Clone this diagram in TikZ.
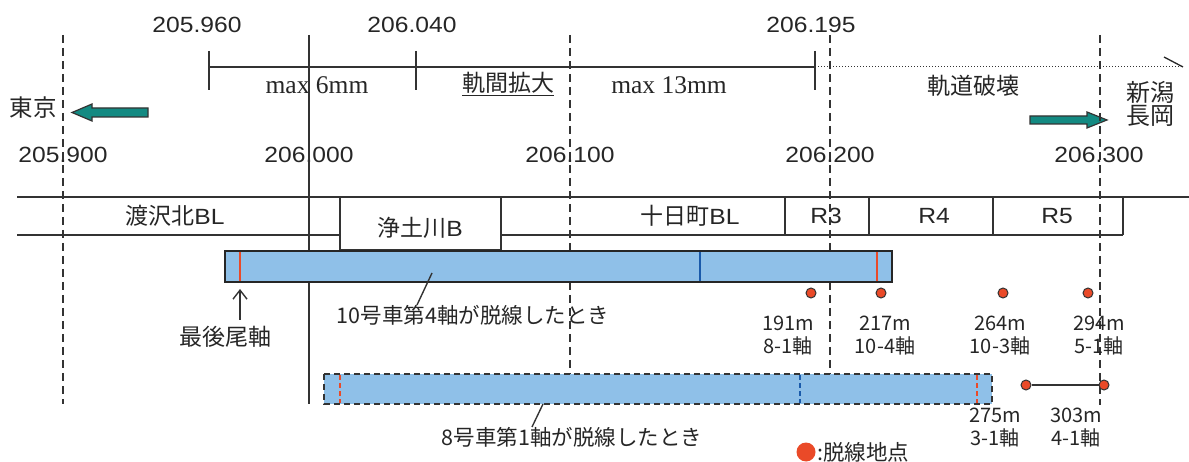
\documentclass[tikz,border=0pt]{standalone}
\usepackage{fontspec}
\usetikzlibrary{arrows.meta}
\setmainfont[FakeStretch=1.12]{Liberation Sans}
\newfontfamily\jp{Noto Sans CJK JP}
\newfontfamily\ser{Liberation Serif}
\definecolor{barblue}{HTML}{8FC0E8}
\definecolor{teal2}{HTML}{138A82}
\definecolor{dotred}{HTML}{EA4A28}
\definecolor{divblue}{HTML}{1A5AAA}
\newcommand{\J}[1]{{\jp\fontsize{23}{25}\selectfont #1}}
\begin{document}
\begin{tikzpicture}[x=1pt,y=-1pt,
  num/.style={font=\fontsize{22}{24}\selectfont, inner sep=0pt, text=black!85},
  jpl/.style={font=\jp\fontsize{23}{25}\selectfont, inner sep=0pt, text=black!85},
  jps/.style={font=\jp\fontsize{21.5}{23}\selectfont, inner sep=0pt, text=black!85},
  jpc/.style={font=\jp\fontsize{20}{22}\selectfont, inner sep=0pt, text=black!85},
  serl/.style={font=\ser\fontsize{25.5}{27}\selectfont, inner sep=0pt, text=black!85},
  vdash/.style={line width=1.3pt, dash pattern=on 8pt off 5pt, black!80},
  thin/.style={line width=1.4pt, black!80},
  boxl/.style={line width=1.6pt, black!80},
  bar/.style={fill=barblue, draw=black!85, line width=2.2pt},
  dbar/.style={fill=barblue, draw=black!80, line width=1.6pt, dash pattern=on 6pt off 4pt},
  reddot/.style={circle, fill=dotred, draw=black!80, line width=1pt, inner sep=0pt, minimum size=10pt},
  blockarrow/.style={fill=teal2, draw=black!80, line width=1.2pt}
]
\useasboundingbox (0,0) rectangle (1189,462);

% ---- top scale ----
\node[num] (k5960) at (197,25) {205.960};
\node[num] (k6040) at (412,25) {206.040};
\node[num] (k6195) at (811,25) {206.195};
\coordinate (t1) at (209,67);
\coordinate (t2) at (416,67);
\coordinate (t3) at (815,67);
\coordinate (tend) at (1183,67);
\draw[thin] (209,51) -- (209,90);
\draw[thin] (416,51) -- (416,90);
\draw[thin] (815,51) -- (815,90);
\draw[thin] (t1) -- (t3);
\draw[line width=1pt, black!80, dotted] (t3) -- (tend);
\draw[line width=1.3pt, black!85] (1164,57) -- (tend);
\node[serl] (m6) at (317,85) {max 6mm};
\node[jpl] (kk) at (508,84) {\underline{軌間拡大}};
\node[serl] (m13) at (669,85) {max 13mm};
\node[jpl] (hk) at (973,86) {軌道破壊};

% ---- direction arrows ----
\node[jpl, font=\jp\fontsize{23.5}{25}\selectfont] (tokyo) at (33,108) {東京};
\draw[blockarrow] (148,108) -- (92,108) -- (92,104) -- (72,112.5) -- (92,121) -- (92,117) -- (148,117) -- cycle;
\node[jpl, font=\jp\fontsize{24}{26}\selectfont, align=center] (niigata) at (1150,104) {新潟\\[-3pt]長岡};
\draw[blockarrow] (1030,116) -- (1087,116) -- (1087,112) -- (1107,120) -- (1087,128) -- (1087,124) -- (1030,124) -- cycle;

% ---- km labels ----
\node[num] (k5900) at (63,155) {205.900};
\node[num] (k6000) at (309,155) {206.000};
\node[num] (k6100) at (570,155) {206.100};
\node[num] (k6200) at (830,155) {206.200};
\node[num] (k6300) at (1099,155) {206.300};

% ---- track ----
\draw[boxl] (17,197) -- (1189,197);
\draw[boxl] (17,235) -- (1123,235);
\draw[boxl, fill=white] (340,197) rectangle (501,250);
\draw[boxl] (785,197) -- (785,235);
\draw[boxl] (869,197) -- (869,235);
\draw[boxl] (993,197) -- (993,235);
\draw[boxl] (1123,197) -- (1123,235);
\node[num] (b1) at (175,216) {\J{渡沢北}BL};
\node[num] (b2) at (420,228) {\J{浄土川}B};
\node[num] (b3) at (690,216) {\J{十日町}BL};
\node[num] (r3) at (826,216) {R3};
\node[num] (r4) at (934,216) {R4};
\node[num] (r5) at (1057,216) {R5};

% ---- text under the vertical lines ----
\node[jps] (t10) at (473,315) {10号車第4軸が脱線したとき};
\node[jps] (t8) at (572,437) {8号車第1軸が脱線したとき};

% ---- vertical reference lines ----
\draw[vdash] (63,35) -- (63,404);
\draw[thin] (309,35) -- (309,404);
\draw[vdash] (570,35) -- (570,374);
\draw[vdash] (830,35) -- (830,374);
\draw[vdash] (1100,35) -- (1100,405);

% ---- car 10 bar ----
\draw[bar] (225,251) rectangle (892,282);
\draw[line width=1.3pt, dotred] (240,252) -- (240,281);
\draw[line width=1.5pt, divblue] (700,252) -- (700,281);
\draw[line width=1.3pt, dotred] (877,252) -- (877,281);
\draw[thin] (432,273) -- (417,305);
\coordinate (last) at (240,289);
\draw[thin, -{Straight Barb[length=9pt,width=14pt]}] (240,320) -- (last);
\node[jpl] (saigo) at (225,337) {最後尾軸};

% ---- car 8 bar ----
\draw[dbar] (324,374) rectangle (992,404);
\draw[line width=1.5pt, dotred, dash pattern=on 5pt off 3pt] (340,375) -- (340,403);
\draw[line width=1.5pt, divblue, dash pattern=on 5pt off 3pt] (800,375) -- (800,403);
\draw[line width=1.5pt, dotred, dash pattern=on 5pt off 3pt] (977,375) -- (977,403);
\draw[thin] (543,404) -- (532,427);

% ---- derailment points ----
\node[reddot] (p191) at (811,293) {};
\node[reddot] (p217) at (881,293) {};
\node[reddot] (p264) at (1003,293) {};
\node[reddot] (p294) at (1088,293) {};
\node[jpc, align=center] (l191) at (788,336) {191m\\[1pt]8-1軸};
\node[jpc, align=center] (l217) at (885,336) {217m\\[1pt]10-4軸};
\node[jpc, align=center] (l264) at (1000,336) {264m\\[1pt]10-3軸};
\node[jpc, align=center] (l294) at (1099,336) {294m\\[1pt]5-1軸};
\node[reddot] (p275) at (1026,385) {};
\node[reddot] (p303) at (1104,385) {};
\draw[thin] (p275) -- (p303);
\node[jpc, align=center] (l275) at (995,428) {275m\\[1pt]3-1軸};
\node[jpc, align=center] (l303) at (1076,428) {303m\\[1pt]4-1軸};

% ---- legend ----
\node[circle, fill=dotred, inner sep=0pt, minimum size=19pt] (leg) at (806,452) {};
\node[jps, anchor=west] (legt) at (817,452) {:脱線地点};
\end{tikzpicture}
\end{document}
